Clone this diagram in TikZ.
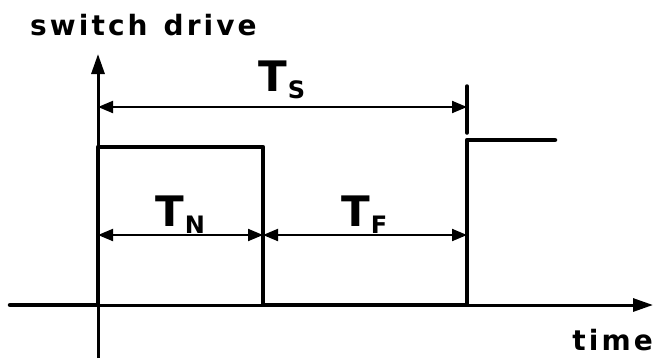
\documentclass[tikz,border=0pt]{standalone}
\usepackage{fontspec}
\setmainfont{DejaVu Sans}
\usetikzlibrary{arrows.meta}
\newcommand{\subT}[1]{\fontsize{42}{42}\selectfont\bfseries T\kern1pt\raisebox{-7pt}{\fontsize{24}{24}\selectfont #1}}
\begin{document}
\begin{tikzpicture}[x=1pt,y=-1pt,
  wave/.style={line width=4.5pt, line join=round, line cap=round},
  axis/.style={line width=3pt, -{Triangle[length=20pt,width=13pt]}},
  dimline/.style={line width=2pt, {Triangle[length=15pt,width=12pt]}-{Triangle[length=15pt,width=12pt]}},
  lbl/.style={inner sep=0pt, font=\fontsize{28}{28}\selectfont\bfseries\addfontfeature{LetterSpace=11}}]
\useasboundingbox (0,0) rectangle (653,360);
% coordinates
\coordinate (o) at (98,305);
\coordinate (ybot) at (98,358);
\coordinate (ytop) at (98,54);
\coordinate (xend) at (653,305);
\coordinate (l0) at (10,305);
\coordinate (r1) at (98,147);
\coordinate (f1t) at (263,147);
\coordinate (f1b) at (263,305);
\coordinate (r2b) at (467,305);
\coordinate (r2t) at (467,140);
\coordinate (e2) at (555,140);
\coordinate (tsl) at (98,107);
\coordinate (tsr) at (467,107);
\coordinate (ticktop) at (467,86);
\coordinate (tickbot) at (467,133);
\coordinate (nl) at (98,235);
\coordinate (nr) at (263,235);
\coordinate (fr) at (467,235);
% axes
\draw[axis] (ybot) -- (ytop);
\draw[axis] (o) -- (xend);
% waveform
\draw[wave] (l0) -- (o) -- (r1) -- (f1t) -- (f1b) -- (r2b) -- (r2t) -- (e2);
% dimensions
\draw[line width=3.5pt, line cap=round] (ticktop) -- (tickbot);
\draw[dimline] (tsl) -- (tsr);
\draw[dimline] (nl) -- (nr);
\draw[dimline] (nr) -- (fr);
% labels
\node[lbl, anchor=base west] (sd) at (30,35) {switch\hspace{16pt}drive};
\node[lbl, anchor=base east] (tm) at (653,350) {time};
\node[inner sep=0pt, anchor=base west] (ts) at (258,91) {\subT{S}};
\node[inner sep=0pt, anchor=base west] (tn) at (155,226) {\subT{N}};
\node[inner sep=0pt, anchor=base west] (tf) at (341,226) {\subT{F}};
\end{tikzpicture}
\end{document}
